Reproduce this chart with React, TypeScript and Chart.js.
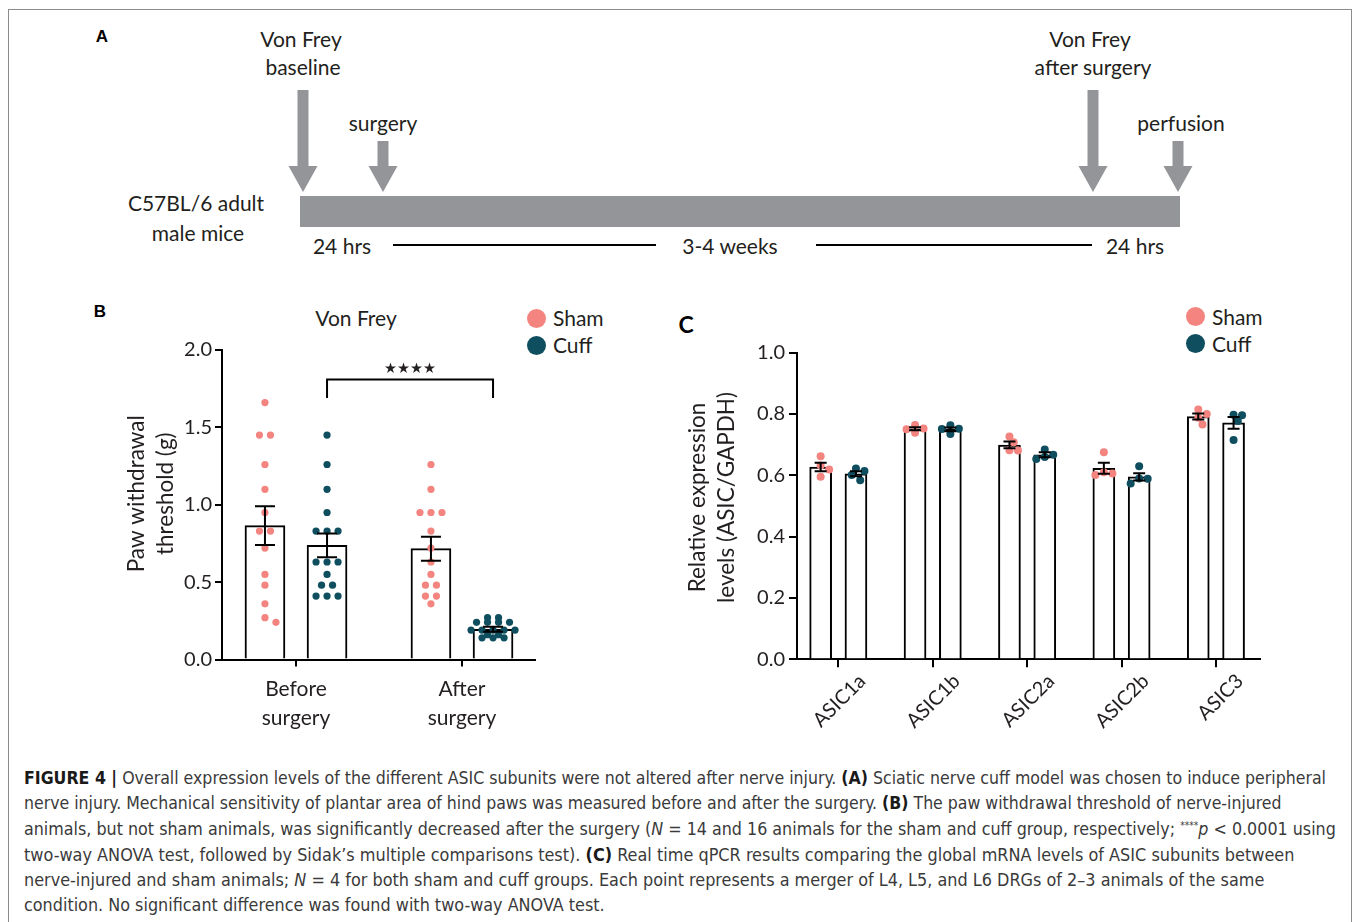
import React, { useEffect, useLayoutEffect, useRef } from "react";
import { Chart, registerables } from "chart.js";

Chart.register(...registerables);

const INK = "#231f20";
const PINK = "#f3847f";
const TEAL = "#0e4e5f";
const GREY = "#939598";
const SANS = "Lato, 'Open Sans', sans-serif";
const CAPTION_FONT = "'Liberation Sans Narrow', 'DejaVu Sans Condensed', 'Liberation Sans', sans-serif";

// ---------- Panel B : Von Frey ----------
const vfCategories = [["Before", "surgery"], ["After", "surgery"]];
const vfYTitle = ["Paw withdrawal", "threshold (g)"];
const vfYTicks = [0, 0.5, 1.0, 1.5, 2.0];
const vfShamMean = [0.865, 0.716];
const vfShamSem = [0.125, 0.078];
const vfCuffMean = [0.737, 0.195];
const vfCuffSem = [0.077, 0.016];
const vfShamBefore = [1.66, 1.45, 1.45, 1.26, 1.1, 0.95, 0.83, 0.83, 0.72, 0.55, 0.48, 0.36, 0.27, 0.24];
const vfCuffBefore = [1.45, 1.26, 1.1, 0.95, 0.83, 0.83, 0.83, 0.63, 0.63, 0.63, 0.55, 0.48, 0.48, 0.41, 0.41, 0.41];
const vfShamAfter = [1.26, 1.1, 0.95, 0.95, 0.95, 0.83, 0.72, 0.63, 0.55, 0.48, 0.48, 0.41, 0.41, 0.36];
const vfCuffAfter = [0.27, 0.27, 0.24, 0.24, 0.24, 0.24, 0.19, 0.19, 0.19, 0.19, 0.19, 0.16, 0.16, 0.14, 0.14, 0.14];
const vfSigStars = "★★★★";

// ---------- Panel C : qPCR ----------
const asicLabels = ["ASIC1a", "ASIC1b", "ASIC2a", "ASIC2b", "ASIC3"];
const asicYTitle = ["Relative expression", "levels (ASIC/GAPDH)"];
const asicYTicks = [0, 0.2, 0.4, 0.6, 0.8, 1.0];
const asicShamMean = [0.627, 0.752, 0.699, 0.623, 0.792];
const asicShamSem = [0.014, 0.005, 0.011, 0.018, 0.01];
const asicCuffMean = [0.605, 0.75, 0.667, 0.595, 0.771];
const asicCuffSem = [0.008, 0.006, 0.008, 0.012, 0.019];
const asicShamPoints = [
  [0.662, 0.632, 0.619, 0.595],
  [0.764, 0.753, 0.75, 0.739],
  [0.727, 0.708, 0.682, 0.681],
  [0.675, 0.61, 0.606, 0.601],
  [0.815, 0.8, 0.788, 0.766],
];
const asicCuffPoints = [
  [0.622, 0.614, 0.601, 0.584],
  [0.763, 0.752, 0.751, 0.735],
  [0.684, 0.667, 0.66, 0.653],
  [0.63, 0.59, 0.589, 0.573],
  [0.798, 0.796, 0.777, 0.715],
];

const OFF = 0.187; // half distance between paired bars, in category units

// deterministic beeswarm: spreads overlapping dots sideways
function swarm(values: number[], center: number, pxX: number, pxY: number, step: number, minDist: number) {
  const sorted = [...values].sort((a, b) => b - a);
  const groups: number[][] = [];
  sorted.forEach((v) => {
    const g = groups[groups.length - 1];
    if (g && g[0] === v) g.push(v);
    else groups.push([v]);
  });
  const placed: { px: number; py: number }[] = [];
  const out: { x: number; y: number }[] = [];
  const shifts = [0, 0.5, -0.5, 1, -1, 1.5, -1.5, 2, -2];
  groups.forEach((g) => {
    const n = g.length;
    const py = g[0] * pxY;
    let chosen: number[] | null = null;
    for (const s of shifts) {
      const xs = g.map((_, i) => (i - (n - 1) / 2 + s) * step);
      const ok = xs.every((px) => placed.every((p) => Math.hypot(p.px - px, p.py - py) >= minDist));
      if (ok) {
        chosen = xs;
        break;
      }
    }
    if (!chosen) chosen = g.map((_, i) => (i - (n - 1) / 2) * step);
    chosen.forEach((px) => {
      placed.push({ px, py });
      out.push({ x: center + px / pxX, y: g[0] });
    });
  });
  return out;
}

const errorBars = {
  id: "errorBars",
  afterDatasetsDraw(chart: any, _args: any, opts: any) {
    const { ctx, scales } = chart;
    const y = scales.y;
    const cap = opts.cap || 20;
    chart.data.datasets.forEach((ds: any, di: number) => {
      if (!ds.errors) return;
      const meta = chart.getDatasetMeta(di);
      meta.data.forEach((el: any, i: number) => {
        const v = ds.data[i].y;
        const e = ds.errors[i];
        const x = el.x;
        const yt = y.getPixelForValue(v + e);
        const yb = y.getPixelForValue(v - e);
        ctx.save();
        ctx.strokeStyle = "#000";
        ctx.lineWidth = 2;
        ctx.beginPath();
        ctx.moveTo(x, yt);
        ctx.lineTo(x, yb);
        ctx.moveTo(x - cap / 2, yt);
        ctx.lineTo(x + cap / 2, yt);
        ctx.moveTo(x - cap / 2, yb);
        ctx.lineTo(x + cap / 2, yb);
        ctx.stroke();
        ctx.restore();
      });
    });
  },
};

const sigBracket = {
  id: "sigBracket",
  afterDatasetsDraw(chart: any, _args: any, o: any) {
    if (!o || !o.text) return;
    const { ctx, scales } = chart;
    const x1 = scales.x.getPixelForValue(o.from);
    const x2 = scales.x.getPixelForValue(o.to);
    const yl = scales.y.getPixelForValue(o.level);
    const yd = scales.y.getPixelForValue(o.leg);
    ctx.save();
    ctx.strokeStyle = "#000";
    ctx.lineWidth = 2;
    ctx.beginPath();
    ctx.moveTo(x1, yd);
    ctx.lineTo(x1, yl);
    ctx.lineTo(x2, yl);
    ctx.lineTo(x2, yd);
    ctx.stroke();
    ctx.fillStyle = INK;
    ctx.font = "14.5px 'DejaVu Sans'";
    ctx.textAlign = "center";
    ctx.textBaseline = "middle";
    ctx.fillText(o.text, (x1 + x2) / 2, yl - 10);
    ctx.restore();
  },
};

// y-axis title drawn beside the y scale (multi-line, rotated)
const yTitle = {
  id: "yTitle",
  afterDraw(chart: any, _args: any, o: any) {
    if (!o || !o.lines) return;
    const { ctx, chartArea } = chart;
    const cy = (chartArea.top + chartArea.bottom) / 2 + o.dy;
    ctx.save();
    ctx.translate(o.x, cy);
    ctx.rotate(-Math.PI / 2);
    ctx.font = `${o.size}px ${SANS}`;
    ctx.fillStyle = INK;
    ctx.textAlign = "center";
    ctx.textBaseline = "middle";
    o.lines.forEach((line: string, i: number) => ctx.fillText(line, 0, i * o.lh));
    ctx.restore();
  },
};

function axisGrid(len: number) {
  return { display: true, offset: false, drawOnChartArea: false, drawTicks: true, tickLength: len, tickWidth: 2, lineWidth: 2, tickColor: "#000", color: "#000" };
}
const axisBorder = { display: true, color: "#000", width: 2 };

function vonFreyConfig(): any {
  const pxX = 166;
  const pxY = 154.5;
  const sw = (vals: number[], c: number) => swarm(vals, c, pxX, pxY, 11, 7.5);
  return {
    type: "bar",
    data: {
      datasets: [
        { type: "bar", label: "Sham", data: vfShamMean.map((v, i) => ({ x: i - OFF, y: v })), errors: vfShamSem, backgroundColor: "#fff", borderColor: "#000", borderWidth: 2, barThickness: 40, grouped: false, order: 2 },
        { type: "bar", label: "Cuff", data: vfCuffMean.map((v, i) => ({ x: i + OFF, y: v })), errors: vfCuffSem, backgroundColor: "#fff", borderColor: "#000", borderWidth: 2, barThickness: 40, grouped: false, order: 2 },
        { type: "scatter", label: "Sham points", data: [...sw(vfShamBefore, -OFF), ...sw(vfShamAfter, 1 - OFF)], backgroundColor: PINK, borderWidth: 0, pointRadius: 3.6, order: 1 },
        { type: "scatter", label: "Cuff points", data: [...sw(vfCuffBefore, OFF), ...sw(vfCuffAfter, 1 + OFF)], backgroundColor: TEAL, borderWidth: 0, pointRadius: 3.6, order: 1 },
      ],
    },
    options: {
      responsive: false,
      animation: false,
      events: [],
      layout: { padding: { top: 60, right: 25, left: 0, bottom: 0 } },
      plugins: {
        legend: { display: false },
        tooltip: { enabled: false },
        errorBars: { cap: 20 },
        sigBracket: { from: OFF, to: 1 + OFF, level: 1.81, leg: 1.69, text: vfSigStars },
        yTitle: { lines: vfYTitle, x: 37, dy: -11, size: 22.5, lh: 28.5 },
      },
      scales: {
        x: {
          type: "linear",
          offset: false,
          min: -0.4458,
          max: 1.4398,
          afterBuildTicks: (s: any) => {
            s.ticks = vfCategories.map((_, i) => ({ value: i }));
          },
          afterFit: (s: any) => {
            s.height = 80.5;
          },
          ticks: {
            callback: (_v: any, i: number) => vfCategories[i],
            font: { family: SANS, size: 21, lineHeight: 1.4 },
            color: INK,
            padding: 8,
            maxRotation: 0,
            autoSkip: false,
          },
          grid: axisGrid(7),
          border: axisBorder,
        },
        y: {
          min: 0,
          max: 2,
          afterBuildTicks: (s: any) => {
            s.ticks = vfYTicks.map((v) => ({ value: v }));
          },
          afterFit: (s: any) => {
            s.width = 122;
          },
          ticks: { callback: (v: any) => Number(v).toFixed(1), font: { family: SANS, size: 20 }, color: INK, padding: 3 },
          grid: axisGrid(7),
          border: axisBorder,
        },
      },
    },
    plugins: [errorBars, sigBracket, yTitle],
  };
}

function asicConfig(): any {
  const pxX = 94.4;
  const pxY = 306.6;
  const sw = (vals: number[], c: number) => swarm(vals, c, pxX, pxY, 8.5, 7);
  return {
    type: "bar",
    data: {
      datasets: [
        { type: "bar", label: "Sham", data: asicShamMean.map((v, i) => ({ x: i - OFF, y: v })), errors: asicShamSem, backgroundColor: "#fff", borderColor: "#000", borderWidth: 2, barThickness: 22, grouped: false, order: 2 },
        { type: "bar", label: "Cuff", data: asicCuffMean.map((v, i) => ({ x: i + OFF, y: v })), errors: asicCuffSem, backgroundColor: "#fff", borderColor: "#000", borderWidth: 2, barThickness: 22, grouped: false, order: 2 },
        { type: "scatter", label: "Sham points", data: asicShamPoints.flatMap((p, i) => sw(p, i - OFF)), backgroundColor: PINK, borderWidth: 0, pointRadius: 4, order: 1 },
        { type: "scatter", label: "Cuff points", data: asicCuffPoints.flatMap((p, i) => sw(p, i + OFF)), backgroundColor: TEAL, borderWidth: 0, pointRadius: 4, order: 1 },
      ],
    },
    options: {
      responsive: false,
      animation: false,
      events: [],
      layout: { padding: { top: 52.7, right: 20, left: 0, bottom: 0 } },
      plugins: {
        legend: { display: false },
        tooltip: { enabled: false },
        errorBars: { cap: 12 },
        yTitle: { lines: asicYTitle, x: 18, dy: -8.5, size: 22.5, lh: 29 },
      },
      scales: {
        x: {
          type: "linear",
          offset: false,
          min: -0.4375,
          max: 4.467,
          afterBuildTicks: (s: any) => {
            s.ticks = asicLabels.map((_, i) => ({ value: i }));
          },
          afterFit: (s: any) => {
            s.height = 80.7;
          },
          ticks: {
            callback: (_v: any, i: number) => asicLabels[i],
            font: { family: SANS, size: 20 },
            color: INK,
            padding: 2,
            labelOffset: 24,
            minRotation: 45,
            maxRotation: 45,
            autoSkip: false,
          },
          grid: axisGrid(8),
          border: axisBorder,
        },
        y: {
          min: 0,
          max: 1,
          afterBuildTicks: (s: any) => {
            s.ticks = asicYTicks.map((v) => ({ value: v }));
          },
          afterFit: (s: any) => {
            s.width = 117;
          },
          ticks: { callback: (v: any) => Number(v).toFixed(1), font: { family: SANS, size: 20 }, color: INK, padding: 4 },
          grid: axisGrid(8),
          border: axisBorder,
        },
      },
    },
    plugins: [errorBars, yTitle],
  };
}

function ChartCanvas({ makeConfig, left, top, width, height }: any) {
  const ref = useRef<HTMLCanvasElement>(null);
  useEffect(() => {
    const chart = new Chart(ref.current as HTMLCanvasElement, makeConfig());
    return () => chart.destroy();
  }, []);
  return <canvas ref={ref} width={width} height={height} style={{ position: "absolute", left, top, width, height }} />;
}

function T({ x, y, children, size = 21, weight = 400, family = SANS, align = "center", color = INK }: any) {
  const tx = align === "center" ? "-50%" : align === "right" ? "-100%" : "0";
  return (
    <div
      style={{
        position: "absolute",
        left: x,
        top: y,
        transform: `translate(${tx}, -50%)`,
        fontFamily: family,
        fontSize: size,
        fontWeight: weight,
        color,
        whiteSpace: "nowrap",
        lineHeight: 1,
      }}
    >
      {children}
    </div>
  );
}

function Dot({ x, y, color }: any) {
  return <div style={{ position: "absolute", left: x - 9.5, top: y - 9.5, width: 19, height: 19, borderRadius: "50%", background: color }} />;
}

function Arrow({ cx, top, tip }: any) {
  const hb = tip - 26;
  const pts = [
    [cx - 5.5, top],
    [cx + 5.5, top],
    [cx + 5.5, hb],
    [cx + 14.5, hb],
    [cx, tip],
    [cx - 14.5, hb],
    [cx - 5.5, hb],
  ]
    .map((p) => p.join(","))
    .join(" ");
  return <polygon points={pts} fill={GREY} />;
}

function PanelA() {
  return (
    <>
      <svg width={1357} height={290} style={{ position: "absolute", left: 0, top: 0 }}>
        <rect x={300} y={196} width={880} height={31} fill={GREY} />
        <Arrow cx={303} top={90} tip={192} />
        <Arrow cx={383} top={141} tip={192} />
        <Arrow cx={1093} top={90} tip={192} />
        <Arrow cx={1178} top={141} tip={192} />
        <line x1={393} y1={245} x2={656} y2={245} stroke="#000" strokeWidth={2} />
        <line x1={816} y1={245} x2={1092} y2={245} stroke="#000" strokeWidth={2} />
      </svg>
      <T x={102} y={36} size={17} weight={700} family="'Liberation Sans', Arial, sans-serif" color="#000">A</T>
      <T x={301} y={38}>Von Frey</T>
      <T x={303} y={66}>baseline</T>
      <T x={383} y={122}>surgery</T>
      <T x={1090} y={38}>Von Frey</T>
      <T x={1093} y={66}>after surgery</T>
      <T x={1181} y={122}>perfusion</T>
      <T x={196} y={202}>C57BL/6 adult</T>
      <T x={198} y={232}>male mice</T>
      <T x={342} y={245}>24 hrs</T>
      <T x={730} y={245}>3-4 weeks</T>
      <T x={1135} y={245}>24 hrs</T>
    </>
  );
}

const CAP_LEFT = 24;
const capTops = [779, 804, 830, 856, 881, 906];
const capRights = [1326, 1282, 1336, 1295, 1264, 605];
const capStyle: any = { position: "absolute", left: CAP_LEFT, fontFamily: CAPTION_FONT, fontSize: 17.6, color: "#3a3a3a", whiteSpace: "nowrap", lineHeight: 1, transformOrigin: "left center", transform: "translateY(-50%)" };
const B = ({ children }: any) => <b style={{ color: "#1a1a1a" }}>{children}</b>;

function Caption() {
  const refs = useRef<(HTMLDivElement | null)[]>([]);
  useLayoutEffect(() => {
    refs.current.forEach((el, i) => {
      if (!el) return;
      const w = el.offsetWidth;
      const k = w > 0 ? (capRights[i] - CAP_LEFT) / w : 1;
      el.style.transform = `translateY(-50%) scaleX(${k})`;
    });
  }, []);
  const lines = [
    <>
      <B>FIGURE 4 |</B> Overall expression levels of the different ASIC subunits were not altered after nerve injury. <B>(A)</B> Sciatic nerve cuff model was chosen to induce peripheral
    </>,
    <>
      nerve injury. Mechanical sensitivity of plantar area of hind paws was measured before and after the surgery. <B>(B)</B> The paw withdrawal threshold of nerve-injured
    </>,
    <>
      animals, but not sham animals, was significantly decreased after the surgery (<i>N</i> = 14 and 16 animals for the sham and cuff group, respectively;{" "}
      <sup style={{ fontSize: 10, verticalAlign: 6 }}>****</sup>
      <i>p</i> &lt; 0.0001 using
    </>,
    <>
      two-way ANOVA test, followed by Sidak’s multiple comparisons test). <B>(C)</B> Real time qPCR results comparing the global mRNA levels of ASIC subunits between
    </>,
    <>
      nerve-injured and sham animals; <i>N</i> = 4 for both sham and cuff groups. Each point represents a merger of L4, L5, and L6 DRGs of 2–3 animals of the same
    </>,
    <>condition. No significant difference was found with two-way ANOVA test.</>,
  ];
  return (
    <>
      {lines.map((content, i) => (
        <div key={i} ref={(el) => { refs.current[i] = el; }} style={{ ...capStyle, top: capTops[i] }}>
          {content}
        </div>
      ))}
    </>
  );
}

export default function App() {
  return (
    <div style={{ position: "fixed", left: 0, top: 0, width: 1357, height: 922, overflow: "hidden", background: "#fff" }}>
      <div style={{ position: "absolute", left: 8, top: 9, width: 1344, height: 1000, border: "1px solid #8c8c8c", boxSizing: "border-box" }} />
      <PanelA />

      {/* Panel B */}
      <T x={100} y={311} size={17} weight={700} family="'Liberation Sans', Arial, sans-serif" color="#000">B</T>
      <T x={356} y={317}>Von Frey</T>
      <Dot x={536} y={318} color={PINK} />
      <T x={553} y={317} align="left">Sham</T>
      <Dot x={536} y={345} color={TEAL} />
      <T x={553} y={344} align="left">Cuff</T>
      <ChartCanvas makeConfig={vonFreyConfig} left={100} top={290} width={460} height={450} />

      {/* Panel C */}
      <T x={686} y={324} size={23} weight={700} color="#000">C</T>
      <Dot x={1195} y={316} color={PINK} />
      <T x={1212} y={316} align="left">Sham</T>
      <Dot x={1195} y={343} color={TEAL} />
      <T x={1212} y={343} align="left">Cuff</T>
      <ChartCanvas makeConfig={asicConfig} left={680} top={300} width={600} height={440} />

      <Caption />
    </div>
  );
}
